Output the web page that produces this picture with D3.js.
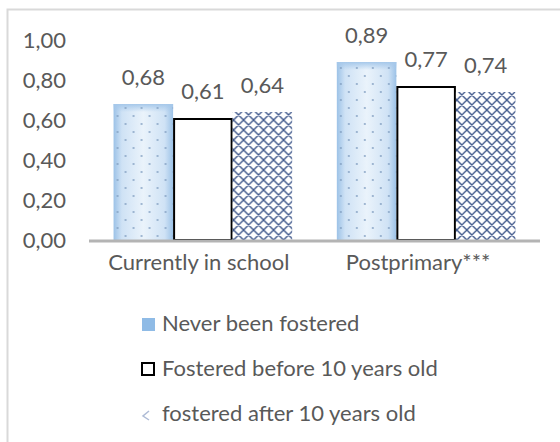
<!DOCTYPE html>
<html>
<head>
<meta charset="utf-8">
<script src="https://cdn.jsdelivr.net/npm/d3@7/dist/d3.min.js"></script>
<style>
  html, body { margin: 0; padding: 0; background: #fff; }
  svg { display: block; }
  text { font-family: Lato, "Open Sans", sans-serif; fill: #595959; }
</style>
</head>
<body>
<svg id="chart" width="560" height="442"></svg>
<script>
// Chart data
const categories = ["Currently in school", "Postprimary***"];
const seriesNames = ["Never been fostered", "Fostered before 10 years old", "fostered after 10 years old"];
const neverFostered = [0.68, 0.89];
const fosteredBefore10 = [0.61, 0.77];
const fosteredAfter10 = [0.64, 0.74];
const yTicks = [0, 0.2, 0.4, 0.6, 0.8, 1.0];

const seriesValues = [neverFostered, fosteredBefore10, fosteredAfter10];

const svg = d3.select("#chart");
const fontSize = 22;

// Comma decimal formatting
const locale = d3.formatLocale({ decimal: ",", thousands: ".", grouping: [3], currency: ["", ""] });
const fmt = locale.format(".2f");

// Fill definitions
const defs = svg.append("defs");

const grad = defs.append("linearGradient").attr("id", "blueGrad")
  .attr("x1", "0").attr("x2", "1").attr("y1", "0").attr("y2", "0");
grad.append("stop").attr("offset", "0%").attr("stop-color", "#9cc2e7");
grad.append("stop").attr("offset", "14%").attr("stop-color", "#cfe2f5");
grad.append("stop").attr("offset", "50%").attr("stop-color", "#eaf3fb");
grad.append("stop").attr("offset", "86%").attr("stop-color", "#cfe2f5");
grad.append("stop").attr("offset", "100%").attr("stop-color", "#9cc2e7");

const topGrad = defs.append("linearGradient").attr("id", "blueTop")
  .attr("x1", "0").attr("x2", "0").attr("y1", "0").attr("y2", "1");
topGrad.append("stop").attr("offset", "0%").attr("stop-color", "#a6c8ea").attr("stop-opacity", 1);
topGrad.append("stop").attr("offset", "100%").attr("stop-color", "#a6c8ea").attr("stop-opacity", 0);

const dots = defs.append("pattern").attr("id", "dots")
  .attr("patternUnits", "userSpaceOnUse").attr("width", 16).attr("height", 16);
dots.append("circle").attr("cx", 4).attr("cy", 4).attr("r", 0.9).attr("fill", "#7f9cbf");
dots.append("circle").attr("cx", 12).attr("cy", 12).attr("r", 0.9).attr("fill", "#7f9cbf");

const hatch = defs.append("pattern").attr("id", "hatch")
  .attr("patternUnits", "userSpaceOnUse").attr("width", 10).attr("height", 10);
hatch.append("rect").attr("width", 10).attr("height", 10).attr("fill", "#fff");
hatch.append("path").attr("d", "M-2,2 L2,-2 M0,10 L10,0 M8,12 L12,8 M-2,8 L2,12 M0,0 L10,10 M8,-2 L12,2")
  .attr("stroke", "#2c4780").attr("stroke-width", 1.4).attr("fill", "none");

// Outer frame
svg.append("rect").attr("x", 7.5).attr("y", 9.5).attr("width", 560).attr("height", 440)
  .attr("fill", "#fff").attr("stroke", "#d9d9d9").attr("stroke-width", 2);

// Scales
const x = d3.scaleBand().domain(categories).range([89, 540]).paddingInner(0.2).paddingOuter(0.11);
const xs = d3.scaleBand().domain(d3.range(seriesNames.length)).range([0, x.bandwidth()]);
const y = d3.scaleLinear().domain([0, 1]).range([240, 40]);

// Y axis labels
const yAxis = d3.axisLeft(y).tickValues(yTicks).tickFormat(fmt).tickSize(0).tickPadding(0);
const gy = svg.append("g").attr("transform", "translate(66,0)").call(yAxis);
gy.select(".domain").remove();
gy.selectAll("text").attr("font-size", fontSize).attr("font-family", "Lato, 'Open Sans', sans-serif")
  .style("fill", "#595959");

// Bars
const groups = svg.append("g").selectAll("g").data(categories).join("g")
  .attr("transform", d => `translate(${x(d)},0)`);

groups.each(function (cat, ci) {
  const g = d3.select(this);
  seriesValues.forEach((vals, si) => {
    const v = vals[ci];
    const bx = xs(si), bw = xs.bandwidth(), by = y(v), bh = y(0) - y(v);
    if (si === 0) {
      g.append("rect").attr("x", bx).attr("y", by).attr("width", bw).attr("height", bh).attr("fill", "url(#blueGrad)");
      g.append("rect").attr("x", bx).attr("y", by).attr("width", bw).attr("height", 8).attr("fill", "url(#blueTop)");
      g.append("rect").attr("x", bx).attr("y", by).attr("width", bw).attr("height", bh).attr("fill", "url(#dots)");
    } else if (si === 1) {
      g.append("rect").attr("x", bx + 1).attr("y", by + 1).attr("width", bw - 2).attr("height", bh - 1)
        .attr("fill", "#fff").attr("stroke", "#000").attr("stroke-width", 2);
    } else {
      g.append("rect").attr("x", bx).attr("y", by).attr("width", bw).attr("height", bh)
        .attr("fill", "url(#hatch)").attr("opacity", 0.9);
    }
    g.append("text").attr("x", bx + bw / 2).attr("y", by - 19)
      .attr("text-anchor", "middle").attr("font-size", fontSize).text(fmt(v));
  });
});

// Baseline
svg.append("line").attr("x1", 89).attr("x2", 540).attr("y1", y(0) + 1).attr("y2", y(0) + 1)
  .attr("stroke", "#b4b4b4").attr("stroke-width", 3);

// Category labels
svg.append("g").selectAll("text").data(categories).join("text")
  .attr("x", (d, i) => x(d) + x.bandwidth() / 2 - 4 - i * 4).attr("y", 270)
  .attr("text-anchor", "middle").attr("font-size", fontSize).text(d => d);

// Legend
const legendY = [324, 369, 414];
const lg = svg.append("g").selectAll("g").data(seriesNames).join("g")
  .attr("transform", (d, i) => `translate(141,${legendY[i]})`);
lg.each(function (d, i) {
  const g = d3.select(this);
  if (i === 0) {
    g.append("rect").attr("x", 1).attr("y", -6).attr("width", 13).attr("height", 13).attr("fill", "#8fbbe6");
  } else if (i === 1) {
    g.append("rect").attr("x", 1).attr("y", -6).attr("width", 12).attr("height", 12)
      .attr("fill", "#fff").attr("stroke", "#000").attr("stroke-width", 2);
  } else {
    g.append("path").attr("d", "M8,-3 L2,2 L8,6").attr("fill", "none")
      .attr("stroke", "#aebbd6").attr("stroke-width", 1.5);
  }
  g.append("text").attr("x", 21).attr("y", 7).attr("font-size", fontSize).text(d);
});
</script>
</body>
</html>
